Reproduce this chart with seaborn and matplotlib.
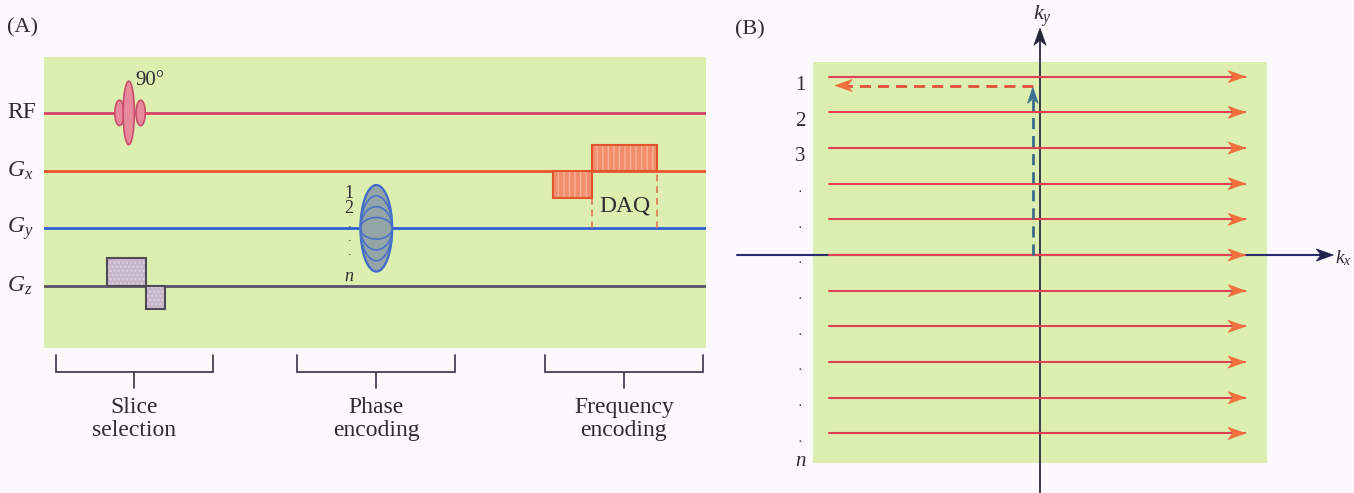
import numpy as np
import pandas as pd
import matplotlib
matplotlib.use("Agg")
import matplotlib.pyplot as plt
from matplotlib.patches import Rectangle, Ellipse, Polygon
import seaborn as sns

# ---------------- Panel A: spin-warp pulse sequence ----------------
channels = ["RF", "$G_x$", "$G_y$", "$G_z$"]
channel_level = [3, 2, 1, 0]
channel_colors = ["#d6426a", "#e9552f", "#2f60d2", "#5a5266"]
seq_span = [0.0, 10.0]          # time axis, ms

# RF excitation (sinc pulse drawn as three lobes)
rf_lobe_t = [1.14, 1.28, 1.46]
rf_lobe_amp = [0.22, 0.55, 0.22]
rf_lobe_halfwidth = [0.07, 0.085, 0.07]
rf_flip = "90°"

# slice-select gradient and its rephasing lobe
gz_t0 = [0.95, 1.54]
gz_t1 = [1.54, 1.83]
gz_amp = [0.485, -0.40]

# phase-encoding table
gy_center = 5.02
gy_halfwidth = 0.24
gy_amp_max = 0.75
gy_steps = [1.0, 0.75, 0.5, 0.25]
gy_step_labels = ["1", "2", "·", "·", "·", "n"]
gy_step_label_pos = [0.60, 0.34, 0.02, -0.22, -0.46, -0.84]

# read-out gradient: dephase lobe + read lobe
gx_t0 = [7.69, 8.28]
gx_t1 = [8.28, 9.26]
gx_amp = [-0.47, 0.45]
daq_window = [8.28, 9.26]

stage_names = ["Slice\nselection", "Phase\nencoding", "Frequency\nencoding"]
stage_t0 = [0.18, 3.82, 7.57]
stage_t1 = [2.55, 6.21, 9.95]

# ---------------- Panel B: k-space trajectory ----------------
ky_rows = [5, 4, 3, 2, 1, 0, -1, -2, -3, -4, -5]
row_labels = ["1", "2", "3", "·", "·", "·", "·", "·", "·", "·", "·"]
last_row_label = "n"
readout_kx = [-5.9, 5.75]
prephase_kx = -0.2
prephase_ky = 4.75
prephase_kx_end = -5.74

# ---------------- styling ----------------
sns.set_theme(style="white")
plt.rcParams["font.family"] = ["Liberation Serif", "DejaVu Serif"]
plt.rcParams["mathtext.fontset"] = "custom"
plt.rcParams["mathtext.rm"] = "Liberation Serif"
plt.rcParams["mathtext.it"] = "Liberation Serif:italic"

GREEN = "#dcefb0"
INK = "#2f2b33"
FS = 16

W, H = 1354, 493
fig = plt.figure(figsize=(W / 100, H / 100), dpi=100, facecolor="#fbf9fb")


def frame(left, top, right, bottom):
    return [left / W, 1 - bottom / H, (right - left) / W, (bottom - top) / H]


def bare(ax):
    ax.set_facecolor(GREEN)
    ax.set_xticks([])
    ax.set_yticks([])
    for s in ax.spines.values():
        s.set_visible(False)


def dart(ax, tip, direction, length, half_width, color, z=6):
    tx, ty = tip
    dx, dy = direction
    px, py = -dy, dx
    bx, by = tx - dx * length, ty - dy * length
    nx, ny = tx - dx * length * 0.72, ty - dy * length * 0.72
    pts = [(tx, ty), (bx + px * half_width, by + py * half_width), (nx, ny),
           (bx - px * half_width, by - py * half_width)]
    ax.add_patch(Polygon(pts, closed=True, facecolor=color, edgecolor=color,
                         lw=0.5, zorder=z, clip_on=False))


# ===== Panel A =====
axA = fig.add_axes(frame(44, 57, 706, 348))
bare(axA)
axA.set_xlim(*seq_span)
axA.set_ylim(-1.0745, 3.969)

base = pd.DataFrame({
    "t": seq_span * len(channels),
    "level": np.repeat(channel_level, 2),
    "channel": np.repeat(channels, 2),
})
sns.lineplot(data=base, x="t", y="level", hue="channel", hue_order=channels,
             palette=channel_colors, units="channel", estimator=None, sort=False,
             lw=2.0, legend=False, ax=axA, zorder=2)
axA.set_xlabel("")
axA.set_ylabel("")

for name, lvl in zip(channels, channel_level):
    axA.text(-0.56, lvl, name, fontsize=FS + 1, ha="left", va="center",
             color=INK, clip_on=False)
axA.text(-0.56, 4.47, "(A)", fontsize=FS, ha="left", va="center", color=INK,
         clip_on=False)

# RF pulse
rf_lvl = channel_level[0]
order = np.argsort(rf_lobe_amp)
for i in order:
    axA.add_patch(Ellipse((rf_lobe_t[i], rf_lvl), 2 * rf_lobe_halfwidth[i],
                          2 * rf_lobe_amp[i], facecolor="#e88a9c",
                          edgecolor="#c84d6c", lw=1.2, zorder=4))
axA.text(rf_lobe_t[1] + 0.1, rf_lvl + max(rf_lobe_amp) + 0.02, rf_flip,
         fontsize=15, ha="left", va="center", color=INK)

# slice-select gradient
gz_lvl = channel_level[3]
for t0, t1, a in zip(gz_t0, gz_t1, gz_amp):
    axA.add_patch(Rectangle((t0, gz_lvl), t1 - t0, a, facecolor="#c7b6cb",
                            edgecolor="#ddd0dd", hatch="....", lw=0, zorder=3))
    axA.add_patch(Rectangle((t0, gz_lvl), t1 - t0, a, fill=False,
                            edgecolor="#4f4a58", lw=1.5, zorder=4))

# phase-encoding table
gy_lvl = channel_level[2]
axA.add_patch(Ellipse((gy_center, gy_lvl), 2 * gy_halfwidth, 2 * gy_amp_max,
                      facecolor="#93a5a6", edgecolor="#3e6bc8", lw=1.6, zorder=3))
for f in gy_steps[1:]:
    axA.add_patch(Ellipse((gy_center, gy_lvl), 2 * gy_halfwidth, 2 * gy_amp_max * f,
                          fill=False, edgecolor="#4a72c6", lw=1.2, zorder=4))
for lab, pos in zip(gy_step_labels, gy_step_label_pos):
    style = "italic" if lab == "n" else "normal"
    axA.text(4.61, gy_lvl + pos, lab, fontsize=13 if lab != "·" else 8,
             ha="center", va="center", color=INK, fontstyle=style)

# read-out gradient
gx_lvl = channel_level[1]
for t0, t1, a in zip(gx_t0, gx_t1, gx_amp):
    axA.add_patch(Rectangle((t0, gx_lvl), t1 - t0, a, facecolor="#f28e6c",
                            edgecolor="#f6b398", hatch="|||", lw=0, zorder=3))
    axA.add_patch(Rectangle((t0, gx_lvl), t1 - t0, a, fill=False,
                            edgecolor="#e3552c", lw=1.5, zorder=4))
axA.vlines(daq_window, gy_lvl, gx_lvl, colors="#e07450", lw=1.2,
           linestyles=(0, (4, 3)), zorder=3)
axA.text(np.mean(daq_window), 1.39, "DAQ", fontsize=FS + 1, ha="center",
         va="center", color=INK)

# stage brackets
for name, t0, t1 in zip(stage_names, stage_t0, stage_t1):
    c = 0.5 * (t0 + t1)
    axA.plot([t0, t0, t1, t1], [-1.196, -1.49, -1.49, -1.196], color="#4a3f55",
             lw=1.3, clip_on=False, solid_joinstyle="miter")
    axA.plot([c, c], [-1.49, -1.77], color="#4a3f55", lw=1.3, clip_on=False)
    axA.text(c, -2.30, name, fontsize=FS + 1, ha="center", va="center",
             color=INK, linespacing=1.1, clip_on=False)

# ===== Panel B =====
axB = fig.add_axes(frame(813, 62, 1267, 463))
bare(axB)
axB.set_xlim(-6.36, 6.36)
axB.set_ylim(-5.83, 5.41)

# axes of k-space
axB.plot([-8.5, 7.95], [0, 0], color="#2b2a6e", lw=1.5, clip_on=False, zorder=2)
dart(axB, (8.22, 0), (1, 0), 0.48, 0.17, "#23224f")
axB.plot([0, 0], [-6.67, 6.1], color="#2e2e3e", lw=1.3, clip_on=False, zorder=2)
dart(axB, (0, 6.36), (0, 1), 0.48, 0.17, "#25253a")
axB.text(0.08, 6.7, "$k_y$", fontsize=FS, ha="center", va="center",
         color=INK, clip_on=False)
axB.text(8.27, -0.1, "$k_x$", fontsize=14, ha="left", va="center",
         color=INK, clip_on=False)
axB.text(-8.54, 6.3, "(B)", fontsize=FS, ha="left", va="center", color=INK,
         clip_on=False)

# read-out lines
rows = pd.DataFrame({
    "kx": readout_kx * len(ky_rows),
    "ky": np.repeat(ky_rows, 2),
    "row": np.repeat(np.arange(len(ky_rows)), 2),
})
sns.lineplot(data=rows, x="kx", y="ky", units="row", estimator=None, sort=False,
             color="#e0404f", lw=1.5, ax=axB, zorder=3)
axB.set_xlabel("")
axB.set_ylabel("")
for ky, lab in zip(ky_rows, row_labels):
    dart(axB, (readout_kx[1], ky), (1, 0), 0.48, 0.17, "#f0703c")
    axB.text(-6.72, ky - 0.25, lab, fontsize=15 if lab != "·" else 10,
             ha="center", va="center", color=INK, clip_on=False)
axB.text(-6.72, ky_rows[-1] - 0.8, last_row_label, fontsize=15, ha="center",
         va="center", color=INK, fontstyle="italic", clip_on=False)

# phase-encode then dephase path
axB.plot([prephase_kx, prephase_kx], [0, prephase_ky - 0.3], color="#3d6c8a",
         lw=2.0, ls=(0, (4, 2.5)), zorder=4)
dart(axB, (prephase_kx, prephase_ky - 0.05), (0, 1), 0.45, 0.15, "#3f7090")
axB.plot([prephase_kx, prephase_kx_end + 0.3], [prephase_ky, prephase_ky],
         color="#e2503a", lw=2.0, ls=(0, (4, 2.5)), zorder=4)
dart(axB, (prephase_kx_end, prephase_ky), (-1, 0), 0.48, 0.17, "#f0703c")

fig.savefig("out.png", dpi=100, facecolor=fig.get_facecolor())
